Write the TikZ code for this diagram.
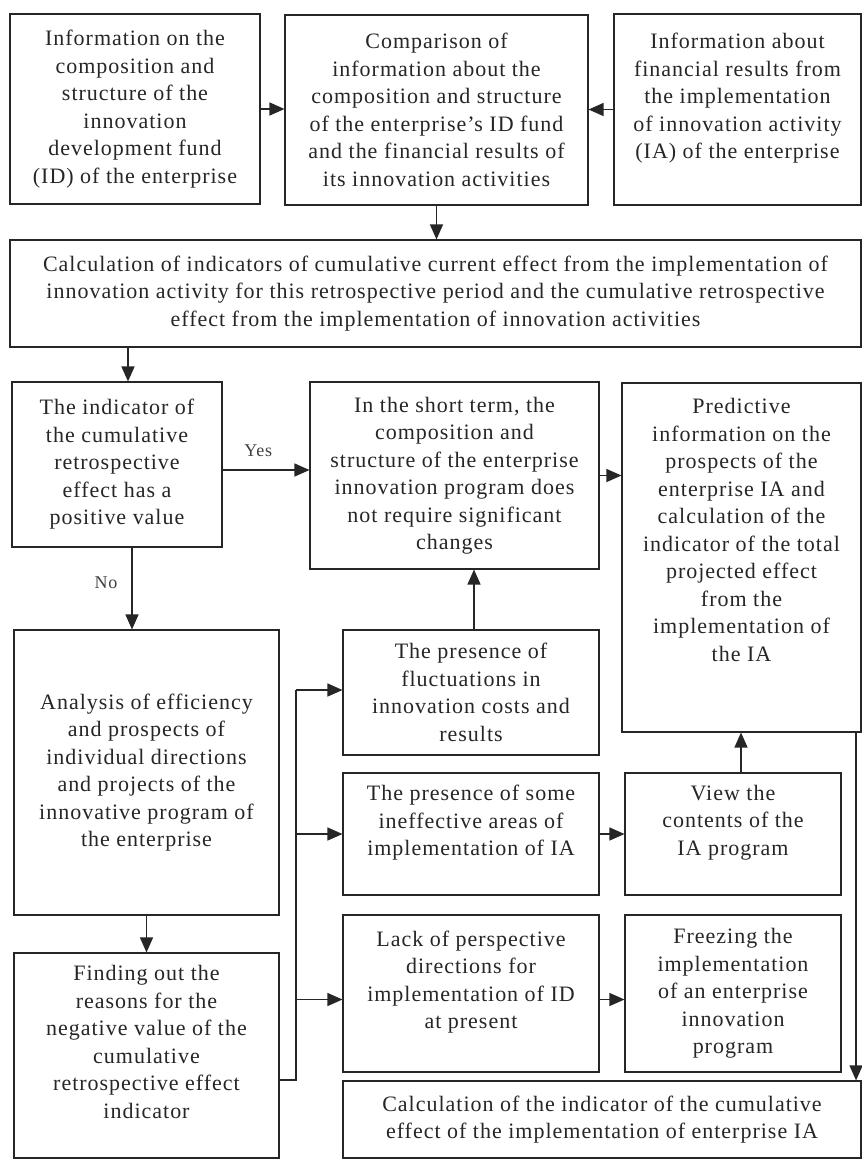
\documentclass[tikz,border=0pt]{standalone}
\usepackage{fontspec}
\setmainfont{Liberation Serif}[LetterSpace=4.5]
\usetikzlibrary{arrows.meta}
\begin{document}
\begin{tikzpicture}[x=1pt,y=-1pt,
  box/.style={draw=black!85, line width=1.1pt, align=center, inner sep=0pt,
    font=\fontsize{22}{27.5}\selectfont, text=black!85},
  arr/.style={draw=black!85, line width=1.3pt, -{Triangle[length=15pt,width=13pt]}},
  ln/.style={draw=black!85, line width=1.3pt},
  lbl/.style={font=\fontsize{18}{20}\selectfont, text=black!75, inner sep=0pt}]
\useasboundingbox[fill=white] (0,0) rectangle (862,1160);

\node[box, minimum width=250pt, minimum height=190pt] (A) at (135,109)
 {Information on the\\composition and\\structure of the\\innovation\\development fund\\(ID) of the enterprise};
\node[box, minimum width=303pt, minimum height=190pt] (B) at (436.5,110)
 {Comparison of\\information about the\\composition and structure\\of the enterprise's ID fund\\and the financial results of\\its innovation activities};
\node[box, minimum width=247pt, minimum height=191pt] (C) at (737.5,109.5)
 {Information about\\financial results from\\the implementation\\of innovation activity\\(IA) of the enterprise\\\mbox{}};
\node[box, minimum width=851pt, minimum height=107pt] (Calc) at (435.5,293.5)
 {Calculation of indicators of cumulative current effect from the implementation of\\innovation activity for this retrospective period and the cumulative retrospective\\effect from the implementation of innovation activities};
\node[box, minimum width=210pt, minimum height=165pt] (D) at (117,464.5)
 {The indicator of\\the cumulative\\retrospective\\effect has a\\positive value};
\node[box, minimum width=289pt, minimum height=187pt] (E) at (454.5,475.5)
 {In the short term, the\\composition and\\structure of the enterprise\\innovation program does\\not require significant\\changes};
\node[box, minimum width=239pt, minimum height=349pt] (F) at (741.5,557.5)
 {Predictive\\information on the\\prospects of the\\enterprise IA and\\calculation of the\\indicator of the total\\projected effect\\from the\\implementation of\\the IA\\\mbox{}\\\mbox{}};
\node[box, minimum width=265pt, minimum height=285pt] (G) at (146.5,772.5)
 {Analysis of efficiency\\and prospects of\\individual directions\\and projects of the\\innovative program of\\the enterprise};
\node[box, minimum width=256pt, minimum height=125pt] (H) at (471,692.5)
 {The presence of\\fluctuations in\\innovation costs and\\results};
\node[box, minimum width=256pt, minimum height=122pt] (I) at (471,834)
 {The presence of some\\ineffective areas of\\implementation of IA\\\mbox{}};
\node[box, minimum width=216pt, minimum height=122pt] (J) at (733,834)
 {View the\\contents of the\\IA program\\\mbox{}};
\node[box, minimum width=256pt, minimum height=157pt] (K) at (471,993.5)
 {Lack of perspective\\directions for\\implementation of ID\\at present\\\mbox{}};
\node[box, minimum width=216pt, minimum height=157pt] (L) at (733,993.5)
 {Freezing the\\implementation\\of an enterprise\\innovation\\program};
\node[box, minimum width=265pt, minimum height=205pt] (M) at (146.5,1055.5)
 {Finding out the\\reasons for the\\negative value of the\\cumulative\\retrospective effect\\indicator\\\mbox{}};
\node[box, minimum width=518pt, minimum height=77pt] (N) at (602,1119.5)
 {Calculation of the indicator of the cumulative\\effect of the implementation of enterprise IA};

% connectors
\draw[arr] (A.east) -- (A.east -| B.west);
\draw[arr] (C.west) -- (C.west -| B.east);
\draw[arr] (B.south) -- (B.south |- Calc.north);
\draw[arr] ([xshift=11pt]D.north |- Calc.south) -- ([xshift=11pt]D.north);
\draw[arr] ([yshift=-5.5pt]D.east) -- node[lbl, above=13pt, pos=0.41] {Yes} ([yshift=-5.5pt]D.east -| E.west);
\draw[arr] (E.east) -- (E.east -| F.west);
\draw[arr] ([xshift=15pt]D.south) -- node[lbl, left=14pt, pos=0.43] {No} ([xshift=15pt]D.south |- G.north);
\draw[arr] ([xshift=3pt]H.north) -- ([xshift=3pt]H.north |- E.south);
\draw[arr] (I.east) -- (I.east -| J.west);
\draw[arr] ([xshift=8pt]J.north) -- ([xshift=8pt]J.north |- F.south);
\coordinate (Kin) at ([yshift=-6pt]K.west);
\draw[arr] ([yshift=-6pt]K.east) -- ([yshift=-6pt]K.east -| L.west);
\draw[arr] (G.south) -- (G.south |- M.north);
\coordinate (bt) at (296,690);
\draw[ln] ([yshift=-24.5pt]M.east) -| (bt);
\draw[arr] (bt) -- (bt -| H.west);
\draw[arr] (bt |- I.west) -- (I.west);
\draw[arr] (bt |- Kin) -- (Kin);
\draw[arr] ([xshift=-5.5pt]F.south east) -- ([xshift=-5.5pt]F.south east |- N.north);
\end{tikzpicture}
\end{document}
